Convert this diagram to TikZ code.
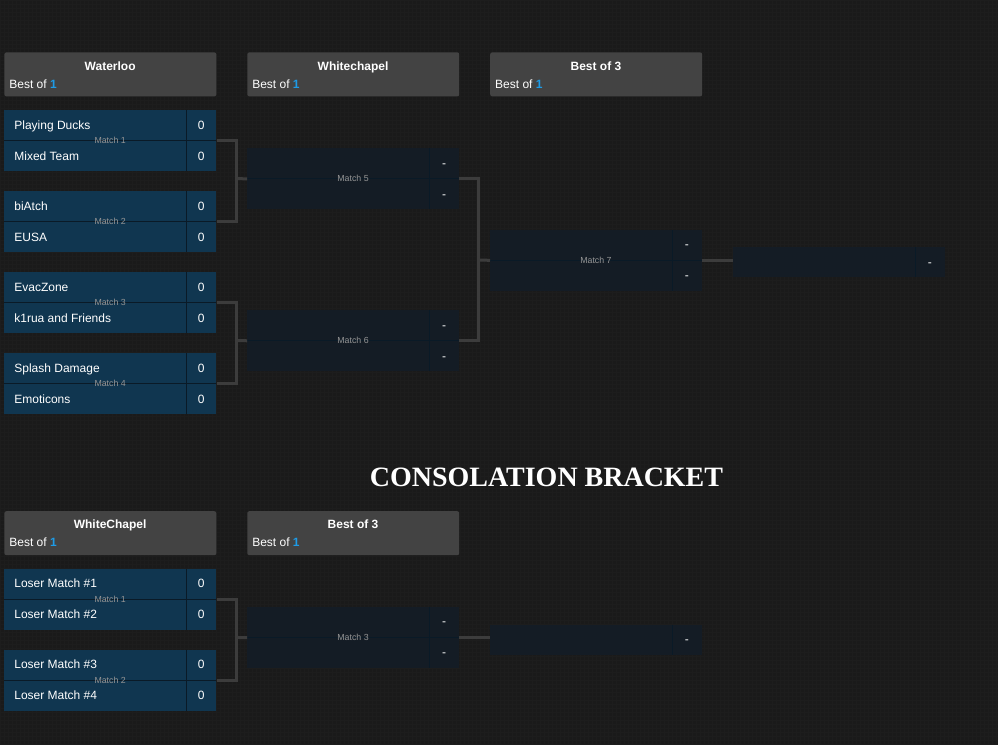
\documentclass[tikz,border=0pt]{standalone}
\usepackage{fontspec}
\setmainfont{Liberation Sans}
\newfontfamily\titlefont{Liberation Serif}
\definecolor{bgc}{HTML}{1A1A1A}
\definecolor{gridc}{HTML}{1D1D1D}
\definecolor{hdrc}{HTML}{434343}
\definecolor{teamc}{HTML}{103650}
\definecolor{emptyc}{HTML}{141C25}
\definecolor{sepc}{HTML}{0A1A27}
\definecolor{connc}{HTML}{3C3C3C}
\definecolor{bluec}{HTML}{1E9BE6}
\definecolor{labc}{HTML}{959595}
\tikzset{
  hdr/.style={fill=hdrc, rounded corners=2pt, minimum width=212pt, minimum height=44pt, anchor=north west, inner sep=0pt},
  matchbg/.style={minimum width=212pt, minimum height=61pt, anchor=north west, inner sep=0pt},
  finalbg/.style={minimum width=212pt, minimum height=30pt, anchor=north west, inner sep=0pt},
  txt/.style={text=white, font=\fontsize{12}{14}\selectfont, inner sep=0pt},
  hdrtitle/.style={text=white, font=\bfseries\fontsize{12}{14}\selectfont, inner sep=0pt},
  lab/.style={text=labc, font=\fontsize{8.8}{10}\selectfont, inner sep=0pt},
  conn/.style={draw=connc, line width=3pt},
  rowsep/.style={draw=#1, line width=1pt},
}
% name, x, y, title, n
\newcommand\hdrbox[5]{%
  \node[hdr] (#1) at (#2,#3) {};
  \node[hdrtitle, anchor=base] (#1t) at ({#2+106},{#3+18}) {#4};
  \node[txt, anchor=base west] (#1b) at ({#2+5},{#3+36}) {Best of \textcolor{bluec}{\textbf{#5}}};
}
% name, x, y, team1, s1, team2, s2, label, fill
\newcommand\bmatch[9]{%
  \node[matchbg, fill=#9] (#1) at (#2,#3) {};
  \draw[rowsep=sepc] ({#2},{#3+30.5}) -- ({#2+212},{#3+30.5});
  \draw[rowsep=sepc] ({#2+182.5},{#3}) -- ({#2+182.5},{#3+61});
  \node[txt, anchor=base west] (#1a) at ({#2+10},{#3+19}) {#4};
  \node[txt, anchor=base] (#1as) at ({#2+197},{#3+19}) {#5};
  \node[txt, anchor=base west] (#1b) at ({#2+10},{#3+50}) {#6};
  \node[txt, anchor=base] (#1bs) at ({#2+197},{#3+50}) {#7};
  \node[lab] (#1l) at ({#2+106},{#3+30.5}) {#8};
}
% name, x, y
\newcommand\finalbox[3]{%
  \node[finalbg, fill=emptyc] (#1) at (#2,#3) {};
  \draw[rowsep=sepc] ({#2+182.5},{#3}) -- ({#2+182.5},{#3+30});
  \node[txt, anchor=base] (#1s) at ({#2+197},{#3+19}) {-};
}
\begin{document}
\begin{tikzpicture}[x=1pt,y=-1pt]
\fill[bgc] (0,0) rectangle (998,744);
\draw[gridc, line width=0.4pt, step=4pt] (0,0) grid (998,744);
\useasboundingbox (0,0) rectangle (998,744);

% ---------- main bracket headers
\hdrbox{h1}{4}{52}{Waterloo}{1}
\hdrbox{h2}{247}{52}{Whitechapel}{1}
\hdrbox{h3}{490}{52}{Best of 3}{1}

% ---------- round 1
\bmatch{m1}{4}{110}{Playing Ducks}{0}{Mixed Team}{0}{Match 1}{teamc}
\bmatch{m2}{4}{191}{biAtch}{0}{EUSA}{0}{Match 2}{teamc}
\bmatch{m3}{4}{272}{EvacZone}{0}{k1rua and Friends}{0}{Match 3}{teamc}
\bmatch{m4}{4}{353}{Splash Damage}{0}{Emoticons}{0}{Match 4}{teamc}

% ---------- round 2
\bmatch{m5}{247}{148}{}{-}{}{-}{Match 5}{emptyc}
\bmatch{m6}{247}{310}{}{-}{}{-}{Match 6}{emptyc}

% ---------- round 3
\bmatch{m7}{490}{229.5}{}{-}{}{-}{Match 7}{emptyc}
\finalbox{f1}{733}{247}

% ---------- connectors
\coordinate (j1) at (236,178.5);
\coordinate (j2) at (236,340.5);
\coordinate (j3) at (478,260);
\draw[conn] (m1.east) -| (j1) |- (m2.east);
\draw[conn] (j1) -- (m5.west);
\draw[conn] (m3.east) -| (j2) |- (m4.east);
\draw[conn] (j2) -- (m6.west);
\draw[conn] (m5.east) -| (j3) |- (m6.east);
\draw[conn] (j3) -- (m7.west);
\draw[conn] (m7.east) -- (m7.east -| f1.west);

% ---------- consolation title
\node[text=white, font=\titlefont\bfseries\fontsize{28}{30}\selectfont, inner sep=0pt] (ctitle) at (546.5,477) {CONSOLATION BRACKET};

% ---------- consolation headers
\hdrbox{h4}{4}{511}{WhiteChapel}{1}
\hdrbox{h5}{247}{511}{Best of 3}{1}

\bmatch{c1}{4}{569}{Loser Match \#1}{0}{Loser Match \#2}{0}{Match 1}{teamc}
\bmatch{c2}{4}{650}{Loser Match \#3}{0}{Loser Match \#4}{0}{Match 2}{teamc}
\bmatch{c3}{247}{607}{}{-}{}{-}{Match 3}{emptyc}
\finalbox{f2}{490}{625}

\coordinate (j4) at (236,637.5);
\draw[conn] (c1.east) -| (j4) |- (c2.east);
\draw[conn] (j4) -- (c3.west);
\draw[conn] (c3.east) -- (c3.east -| f2.west);
\end{tikzpicture}
\end{document}
